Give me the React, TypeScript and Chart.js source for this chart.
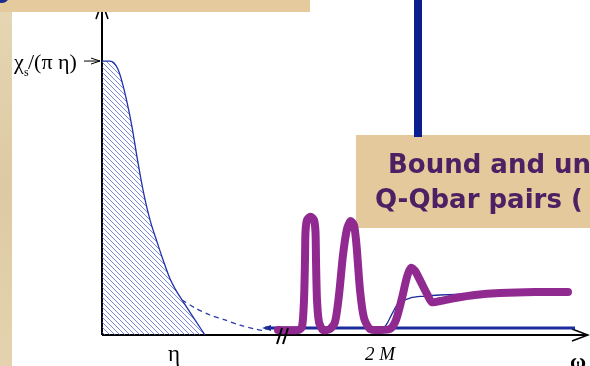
import React, { useEffect, useRef } from "react";
import { Chart, registerables } from "chart.js";

Chart.register(...registerables);

// ---- data (x: omega in arbitrary units, y: spectral function / omega) ----
const X_MAX = 48.3;
const Y_MAX = 1.179;

const transportX = [0, 0.8, 1.2, 1.6, 2.0, 2.5, 3.0, 3.5, 4.1, 4.8, 5.5, 6.1, 6.8, 7.4, 8.0, 9.1, 10.3];
const transportY = [1.0, 1.0, 0.993, 0.97, 0.925, 0.85, 0.76, 0.65, 0.53, 0.42, 0.34, 0.275, 0.205, 0.163, 0.128, 0.066, 0];

const tailX = [8.0, 9.3, 10.8, 12.3, 13.8, 15.3, 16.3];
const tailY = [0.128, 0.099, 0.073, 0.055, 0.036, 0.022, 0.015];

const bandX = [16.3, 47.3];
const bandY = [0.0255, 0.0255];

const barX = [31.6, 31.6];
const barY = [0.723, 1.223];

const contX = [27.8, 28.4, 29.0, 29.6, 30.8, 32.3, 33.8, 36.8, 46.6];
const contY = [0.015, 0.036, 0.077, 0.113, 0.135, 0.142, 0.146, 0.15, 0.157];

const boundX = [17.6, 19.6, 20.0, 20.2, 20.3, 20.35, 20.5, 20.85, 21.2, 21.35, 21.4, 21.5, 21.7, 22.1, 22.8, 23.3, 23.7, 24.1, 24.5, 24.85, 25.2, 25.45, 25.8, 26.2, 26.8, 27.8, 28.8, 29.4, 30.0, 30.5, 30.9, 31.3, 31.9, 32.5, 33.0, 33.8, 35.3, 37.3, 39.8, 43.3, 46.6];
const boundY = [0.018, 0.018, 0.029, 0.128, 0.274, 0.376, 0.42, 0.432, 0.42, 0.376, 0.274, 0.128, 0.047, 0.018, 0.022, 0.047, 0.146, 0.292, 0.387, 0.416, 0.401, 0.328, 0.164, 0.062, 0.022, 0.018, 0.022, 0.055, 0.135, 0.212, 0.245, 0.234, 0.193, 0.15, 0.12, 0.124, 0.135, 0.146, 0.153, 0.157, 0.157];

const yLabelValue = 1.0;
const etaValue = 6.8;
const twoMValue = 27.8;
const boxLine1 = "Bound and unbound";
const boxLine2 = "Q-Qbar pairs (";

const pts = (xs: number[], ys: number[]) => xs.map((x, i) => ({ x, y: ys[i] }));

export default function App() {
  const ref = useRef<HTMLCanvasElement | null>(null);

  useEffect(() => {
    const canvas = ref.current;
    if (!canvas) return;

    const tile = document.createElement("canvas");
    tile.width = 5;
    tile.height = 5;
    const tc = tile.getContext("2d")!;
    tc.strokeStyle = "rgba(70,90,210,0.8)";
    tc.lineWidth = 0.9;
    tc.beginPath();
    tc.moveTo(-1, -1);
    tc.lineTo(6, 6);
    tc.moveTo(4, -1);
    tc.lineTo(6, 1);
    tc.moveTo(-1, 4);
    tc.lineTo(1, 6);
    tc.stroke();
    const pattern = canvas.getContext("2d")!.createPattern(tile, "repeat")!;

    const deco = {
      id: "deco",
      beforeDatasetsDraw(chart: any) {
        const c = chart.ctx as CanvasRenderingContext2D;
        const { left, right, bottom, top } = chart.chartArea;
        c.save();
        c.fillStyle = "#ffffff";
        c.fillRect(0, 0, chart.width, chart.height);
        // left textured strip
        const g = c.createLinearGradient(0, 0, 12, chart.height);
        g.addColorStop(0, "#e6d6b3");
        g.addColorStop(0.5, "#ddcaa4");
        g.addColorStop(1, "#e4d3ae");
        c.fillStyle = g;
        c.fillRect(0, 0, 12, chart.height);
        // axes
        c.strokeStyle = "#000";
        c.lineWidth = 2;
        c.beginPath();
        c.moveTo(left, bottom);
        c.lineTo(left, top - 10);
        c.moveTo(left, bottom);
        c.lineTo(right + 3, bottom);
        c.stroke();
        c.lineWidth = 1.6;
        c.beginPath();
        c.moveTo(left - 6, top + 7);
        c.lineTo(left, top - 10);
        c.lineTo(left + 6, top + 7);
        c.moveTo(right - 13, bottom - 6);
        c.lineTo(right + 3, bottom);
        c.lineTo(right - 13, bottom + 6);
        c.stroke();
        // lower-right caption box
        c.fillStyle = "#e4c99d";
        c.fillRect(356, 135, chart.width - 356, 93);
        c.fillStyle = "#4b2163";
        c.font = "bold 26px 'DejaVu Sans'";
        c.textBaseline = "alphabetic";
        c.fillText(boxLine1, 388, 173);
        c.fillText(boxLine2, 375, 208);
        c.restore();
      },
      afterDatasetsDraw(chart: any) {
        const c = chart.ctx as CanvasRenderingContext2D;
        const xs = chart.scales.x;
        const ys = chart.scales.y;
        const { left, bottom } = chart.chartArea;
        c.save();
        // arrow at band start
        const bx = xs.getPixelForValue(bandX[0]);
        const by = ys.getPixelForValue(bandY[0]);
        c.fillStyle = "#1d2c9c";
        c.beginPath();
        c.moveTo(bx - 3, by);
        c.lineTo(bx + 6, by - 3);
        c.lineTo(bx + 6, by + 3);
        c.closePath();
        c.fill();
        // break marks
        c.strokeStyle = "#000";
        c.lineWidth = 2;
        c.beginPath();
        c.moveTo(277, bottom + 9);
        c.lineTo(282, bottom - 7);
        c.moveTo(283, bottom + 9);
        c.lineTo(288, bottom - 7);
        c.stroke();
        // top-left box
        c.fillStyle = "#e5ca9d";
        c.fillRect(0, 0, 310, 12);
        c.fillStyle = "#1c2b8c";
        c.beginPath();
        c.arc(2, -4, 7, 0, Math.PI * 2);
        c.fill();
        // y label with arrow
        const ly = ys.getPixelForValue(yLabelValue);
        c.fillStyle = "#000";
        c.font = "22px 'Liberation Serif'";
        c.textBaseline = "alphabetic";
        c.fillText("χ", 14, ly + 8);
        c.font = "12px 'Liberation Serif'";
        c.fillText("s", 24, ly + 15);
        c.font = "22px 'Liberation Serif'";
        c.fillText("/(π η)", 28, ly + 8);
        c.strokeStyle = "#000";
        c.lineWidth = 1;
        c.beginPath();
        c.moveTo(84, ly);
        c.lineTo(left - 2, ly);
        c.moveTo(left - 11, ly - 3);
        c.lineTo(left - 2, ly);
        c.lineTo(left - 11, ly + 3);
        c.stroke();
        // x labels
        c.textAlign = "center";
        c.font = "23px 'Liberation Serif'";
        c.fillText("η", xs.getPixelForValue(etaValue) + 4, 361);
        c.font = "italic 19px 'Liberation Serif'";
        c.fillText("2 M", xs.getPixelForValue(twoMValue), 360);
        c.font = "bold 22px 'Liberation Serif'";
        c.fillText("ω", 578, 368);
        c.restore();
      },
    };

    const chart = new Chart(canvas, {
      type: "line",
      data: {
        datasets: [
          {
            data: pts(boundX, boundY),
            borderColor: "#902a90",
            borderWidth: 8,
            borderJoinStyle: "round",
            borderCapStyle: "round",
            tension: 0.25,
            pointRadius: 0,
            fill: false,
            order: 0,
          },
          {
            data: pts(contX, contY),
            borderColor: "#1d2c9c",
            borderWidth: 1.3,
            tension: 0.35,
            pointRadius: 0,
            fill: false,
            order: 1,
          },
          {
            data: pts(bandX, bandY),
            borderColor: "#1d2c9c",
            borderWidth: 3,
            pointRadius: 0,
            fill: false,
            order: 2,
          },
          {
            data: pts(barX, barY),
            borderColor: "#0b1e8f",
            borderWidth: 8,
            pointRadius: 0,
            fill: false,
            clip: false,
            order: 3,
          },
          {
            data: pts(tailX, tailY),
            borderColor: "#2a3bb0",
            borderWidth: 1.3,
            borderDash: [5, 4],
            tension: 0.3,
            pointRadius: 0,
            fill: false,
            order: 4,
          },
          {
            data: pts(transportX, transportY),
            borderColor: "#2233aa",
            borderWidth: 1.3,
            backgroundColor: pattern,
            cubicInterpolationMode: "monotone",
            pointRadius: 0,
            fill: "origin",
            order: 5,
          },
        ],
      },
      options: {
        responsive: false,
        animation: false,
        events: [],
        layout: { padding: { left: 102, right: 5, top: 12, bottom: 31 } },
        scales: {
          x: { type: "linear", min: 0, max: X_MAX, display: false },
          y: { type: "linear", min: 0, max: Y_MAX, display: false },
        },
        plugins: {
          legend: { display: false },
          title: { display: false },
          tooltip: { enabled: false },
        },
      },
      plugins: [deco],
    } as any);

    return () => chart.destroy();
  }, []);

  return (
    <div style={{ position: "absolute", left: 0, top: 0, width: 590, height: 366, overflow: "hidden" }}>
      <canvas ref={ref} width={590} height={366} style={{ display: "block" }} />
    </div>
  );
}
